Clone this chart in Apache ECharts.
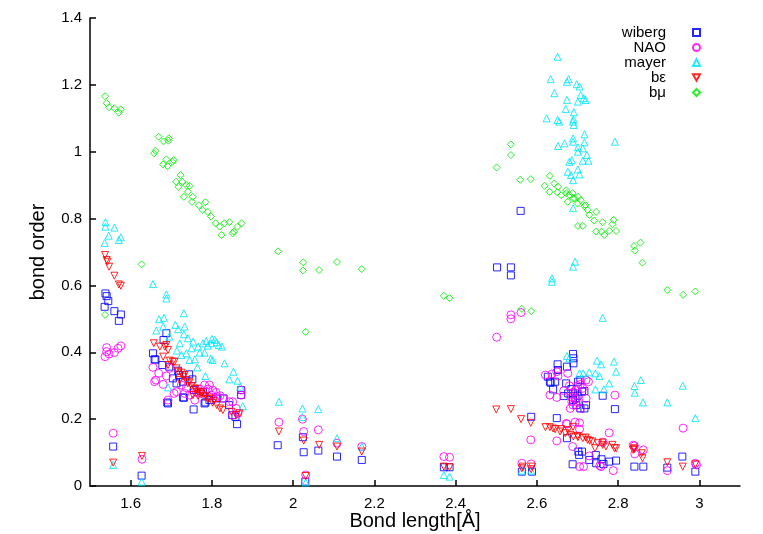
<!DOCTYPE html>
<html>
<head>
<meta charset="utf-8">
<script src="https://cdn.jsdelivr.net/npm/echarts@6/dist/echarts.min.js"></script>
<style>html,body{margin:0;padding:0;background:#fff}#c{width:763px;height:534px}</style>
</head>
<body>
<div id="c"></div>
<script>
const seriesNames = ['wiberg', 'NAO', 'mayer', 'bε', 'bμ'];
const xTicks = [1.6, 1.8, 2.0, 2.2, 2.4, 2.6, 2.8, 3.0];

const wibergData = [
[1.538,0.576],[1.541,0.568],[1.545,0.553],[1.536,0.536],[1.560,0.523],[1.576,0.513],[1.571,0.494],
[1.557,0.118],[1.627,0.031],
[1.688,0.457],[1.681,0.437],[1.655,0.397],[1.659,0.379],[1.661,0.378],[1.678,0.362],[1.695,0.357],[1.717,0.345],[1.719,0.332],[1.744,0.334],[1.752,0.319],[1.704,0.322],[1.713,0.307],[1.729,0.312],[1.756,0.287],[1.778,0.282],[1.729,0.265],[1.692,0.247],[1.690,0.250],[1.755,0.229],[1.782,0.247],[1.794,0.257],[1.811,0.262],[1.829,0.262],[1.842,0.242],[1.850,0.212],[1.858,0.207],[1.862,0.185],[1.872,0.287],[1.872,0.272],[1.731,0.264],[1.784,0.250],
[1.962,0.122],[2.024,0.146],[2.026,0.101],[2.062,0.106],[2.108,0.088],[2.169,0.078],[2.371,0.056],[2.385,0.056],[2.030,0.013],
[2.560,0.823],[2.502,0.654],[2.536,0.654],[2.536,0.630],
[2.689,0.395],[2.690,0.382],[2.690,0.367],[2.651,0.364],[2.652,0.347],[2.674,0.357],[2.627,0.327],[2.634,0.309],[2.645,0.312],[2.672,0.307],[2.701,0.312],[2.707,0.317],[2.640,0.289],[2.666,0.269],[2.677,0.277],[2.689,0.277],[2.711,0.282],[2.717,0.284],[2.689,0.257],[2.697,0.242],[2.707,0.232],[2.717,0.232],[2.721,0.242],[2.762,0.270],[2.792,0.230],[2.586,0.207],[2.649,0.203],[2.674,0.143],[2.702,0.103],[2.711,0.103],[2.704,0.093],[2.729,0.078],[2.745,0.093],[2.759,0.080],[2.764,0.066],[2.778,0.073],[2.795,0.076],[2.688,0.065],[2.746,0.068],[2.840,0.058],[2.862,0.058],[2.563,0.043],[2.588,0.043],[2.921,0.055],[2.958,0.088],[2.990,0.043],[2.632,0.312],[2.695,0.262],[2.700,0.270],[2.685,0.290]
];

const naoData = [
[1.537,0.387],[1.541,0.414],[1.541,0.402],[1.547,0.395],[1.560,0.399],[1.569,0.412],[1.576,0.419],[1.557,0.158],[1.628,0.080],
[1.655,0.355],[1.662,0.317],[1.659,0.312],[1.669,0.337],[1.680,0.304],[1.692,0.257],[1.688,0.329],[1.696,0.352],[1.707,0.277],[1.713,0.282],[1.725,0.302],[1.733,0.277],[1.737,0.294],[1.745,0.272],[1.758,0.257],[1.762,0.282],[1.774,0.277],[1.782,0.302],[1.794,0.302],[1.802,0.287],[1.798,0.272],[1.814,0.267],[1.827,0.262],[1.843,0.252],[1.851,0.252],[1.860,0.232],[1.872,0.272],[1.872,0.287],[1.864,0.217],[1.851,0.212],
[1.790,0.290],[1.810,0.280],[1.820,0.270],[1.770,0.290],
[1.965,0.191],[2.023,0.200],[2.026,0.163],[2.062,0.168],[2.031,0.033],[2.108,0.128],[2.169,0.118],[2.371,0.088],[2.385,0.086],
[2.501,0.445],[2.536,0.512],[2.536,0.500],[2.561,0.519],[2.585,0.138],[2.563,0.068],[2.586,0.066],
[2.621,0.332],[2.637,0.335],[2.649,0.342],[2.652,0.329],[2.676,0.337],[2.721,0.317],[2.727,0.312],[2.707,0.304],[2.713,0.292],[2.721,0.262],[2.666,0.285],[2.632,0.272],[2.649,0.265],[2.686,0.267],[2.686,0.252],[2.689,0.242],[2.707,0.232],[2.682,0.232],[2.697,0.287],[2.792,0.272],[2.674,0.185],[2.705,0.189],[2.705,0.170],[2.649,0.135],[2.688,0.118],[2.778,0.159],[2.762,0.131],[2.729,0.090],[2.758,0.058],[2.705,0.058],[2.715,0.058],[2.788,0.046],[2.840,0.120],[2.841,0.096],[2.862,0.108],[2.960,0.173],[2.921,0.046],[2.990,0.068],[2.755,0.061],[2.680,0.300],[2.690,0.280],[2.700,0.250],[2.695,0.260],[2.700,0.300],[2.672,0.187],[2.694,0.191],[2.837,0.122],[2.993,0.063]
];

const mayerData = [
[1.538,0.789],[1.538,0.776],[1.560,0.773],[1.546,0.749],[1.536,0.727],[1.571,0.736],[1.576,0.744],
[1.655,0.604],[1.688,0.573],[1.688,0.561],[1.731,0.517],[1.670,0.499],[1.682,0.503],[1.710,0.482],[1.733,0.477],[1.663,0.465],[1.680,0.477],[1.717,0.469],[1.695,0.447],[1.731,0.454],[1.741,0.442],[1.721,0.427],[1.754,0.432],[1.750,0.412],[1.766,0.417],[1.778,0.427],[1.786,0.434],[1.798,0.427],[1.807,0.437],[1.817,0.422],[1.825,0.417],[1.770,0.399],[1.782,0.399],[1.737,0.397],[1.725,0.392],[1.714,0.405],[1.758,0.379],[1.745,0.377],[1.797,0.381],[1.764,0.355],[1.831,0.367],[1.802,0.377],[1.784,0.329],[1.853,0.342],[1.843,0.319],[1.863,0.315],[1.870,0.297],[1.692,0.295],[1.876,0.239],
[1.790,0.420],[1.812,0.430],[1.800,0.440],
[1.965,0.252],[2.023,0.232],[2.062,0.230],[2.023,0.206],[2.108,0.143],[2.169,0.118],[2.371,0.033],[2.385,0.028],[1.557,0.063],[1.627,0.013],[2.031,0.011],
[2.651,1.284],[2.634,1.217],[2.678,1.217],[2.674,1.209],[2.698,1.202],[2.705,1.195],[2.643,1.175],[2.708,1.170],[2.715,1.160],[2.720,1.155],[2.701,1.150],[2.674,1.155],[2.671,1.128],[2.691,1.118],[2.624,1.100],[2.651,1.095],[2.655,1.090],[2.690,1.097],[2.691,1.080],[2.689,1.090],[2.717,1.052],[2.689,1.040],[2.689,1.030],[2.717,1.028],[2.792,1.030],[2.668,1.025],[2.652,1.017],[2.701,1.013],[2.713,1.010],[2.701,1.000],[2.723,0.990],[2.686,0.975],[2.713,0.973],[2.727,0.973],[2.680,0.970],[2.701,0.947],[2.676,0.940],[2.684,0.930],[2.705,0.932],[2.689,0.915],[2.689,0.831],[2.694,0.671],[2.689,0.656],[2.637,0.621],[2.637,0.611],[2.762,0.503],
[2.674,0.389],[2.680,0.382],[2.748,0.375],[2.758,0.364],[2.790,0.372],[2.705,0.337],[2.714,0.337],[2.729,0.340],[2.744,0.337],[2.754,0.329],[2.795,0.342],[2.778,0.307],[2.765,0.289],[2.744,0.289],[2.840,0.299],[2.856,0.317],[2.841,0.279],[2.861,0.250],[2.959,0.300],[2.921,0.250],[2.990,0.203],[2.563,0.046],[2.586,0.046]
];

const bEpsData = [
[1.537,0.691],[1.541,0.676],[1.543,0.671],[1.547,0.656],[1.560,0.629],[1.571,0.603],[1.576,0.599],[1.557,0.070],[1.628,0.090],
[1.657,0.427],[1.672,0.417],[1.688,0.422],[1.692,0.407],[1.680,0.387],[1.704,0.372],[1.696,0.375],[1.692,0.362],[1.717,0.342],[1.729,0.327],[1.721,0.317],[1.737,0.317],[1.741,0.307],[1.750,0.299],[1.758,0.292],[1.766,0.282],[1.774,0.275],[1.782,0.267],[1.794,0.262],[1.802,0.249],[1.812,0.242],[1.820,0.232],[1.827,0.227],[1.753,0.272],[1.766,0.270],[1.848,0.222],[1.868,0.217],[1.860,0.212],[1.713,0.352],[1.725,0.339],[1.733,0.332],[1.684,0.417],[1.708,0.372],
[1.745,0.310],[1.760,0.290],[1.775,0.280],[1.785,0.270],[1.790,0.260],[1.805,0.255],
[1.965,0.163],[2.026,0.136],[2.064,0.123],[2.031,0.030],[2.108,0.118],[2.169,0.103],[2.371,0.058],[2.385,0.056],[2.500,0.229],
[2.536,0.230],[2.561,0.200],[2.585,0.189],[2.563,0.053],[2.586,0.050],
[2.621,0.176],[2.632,0.176],[2.645,0.170],[2.657,0.163],[2.670,0.158],[2.682,0.153],[2.690,0.148],[2.701,0.146],[2.713,0.143],[2.725,0.138],[2.737,0.133],[2.750,0.128],[2.762,0.123],[2.770,0.118],[2.786,0.123],[2.791,0.113],[2.743,0.113],[2.689,0.177],[2.677,0.167],[2.660,0.170],[2.640,0.172],[2.839,0.113],[2.858,0.098],[2.860,0.083],[2.565,0.058],[2.588,0.058],[2.762,0.130],[2.795,0.113],[2.840,0.110],[2.921,0.071],[2.959,0.058],[2.990,0.065],[2.837,0.108],[2.700,0.150],[2.720,0.145],[2.730,0.135]
];

const bMuData = [
[1.537,1.166],[1.541,1.145],[1.547,1.133],[1.560,1.130],[1.571,1.117],[1.576,1.127],
[1.669,1.045],[1.681,1.031],[1.694,1.040],[1.693,1.033],[1.661,1.003],[1.658,0.995],[1.688,0.977],[1.706,0.975],[1.680,0.962],[1.691,0.957],[1.703,0.970],[1.723,0.930],[1.712,0.910],[1.727,0.910],[1.718,0.895],[1.737,0.900],[1.745,0.898],[1.731,0.865],[1.741,0.880],[1.753,0.865],[1.751,0.850],[1.768,0.840],[1.784,0.849],[1.777,0.826],[1.790,0.820],[1.798,0.806],[1.809,0.786],[1.819,0.776],[1.824,0.751],[1.831,0.786],[1.843,0.789],[1.854,0.761],[1.863,0.776],[1.873,0.786],[1.851,0.756],
[1.627,0.663],[1.537,0.512],[1.963,0.702],[2.025,0.669],[2.024,0.645],[2.064,0.646],[2.108,0.670],[2.169,0.649],[2.031,0.461],[2.371,0.569],[2.385,0.562],
[2.536,1.022],[2.536,0.990],[2.501,0.953],[2.559,0.916],[2.585,0.918],[2.632,0.928],[2.619,0.898],[2.643,0.905],[2.652,0.895],[2.631,0.880],[2.650,0.879],[2.672,0.885],[2.672,0.876],[2.688,0.876],[2.701,0.865],[2.676,0.850],[2.693,0.860],[2.708,0.855],[2.717,0.837],[2.725,0.826],[2.746,0.820],[2.729,0.811],[2.741,0.794],[2.762,0.789],[2.789,0.796],[2.786,0.783],[2.701,0.778],[2.713,0.778],[2.746,0.761],[2.759,0.761],[2.766,0.751],[2.778,0.763],[2.795,0.763],[2.839,0.718],[2.855,0.728],[2.841,0.704],[2.860,0.668],
[2.921,0.586],[2.960,0.572],[2.990,0.582],[2.563,0.530],[2.586,0.523],
[2.660,0.870],[2.680,0.870],[2.690,0.860],[2.700,0.845],[2.720,0.840]
];

const colors = ['#0000ff', '#ff00ff', '#00e5ff', '#ff0000', '#00ee00'];
const symbols = ['rect', 'circle', 'triangle', 'triangle', 'diamond'];
const legendIcons = ['rect', 'circle', 'triangle', 'path://M0,0 L10,0 L5,9 Z', 'diamond'];
const rotations = [0, 0, 0, 180, 0];
const sizes = [7, 8, 7, 7, 7];
const allData = [wibergData, naoData, mayerData, bEpsData, bMuData];

const FONT = 'Liberation Sans, Arial, sans-serif';
const chart = echarts.init(document.getElementById('c'), null, {renderer: 'canvas'});
chart.setOption({
  animation: false,
  backgroundColor: '#fff',
  grid: {left: 90, right: 23, top: 18, bottom: 48, containLabel: false, outerBoundsMode: 'none'},
  legend: {
    orient: 'vertical',
    right: 57,
    top: 20,
    align: 'right',
    itemWidth: 7,
    itemHeight: 7,
    itemGap: 0,
    textStyle: {fontFamily: FONT, fontSize: 15, color: '#000', lineHeight: 15, padding: [0, 22, 0, 0]},
    data: seriesNames.map((n, i) => ({name: n, icon: legendIcons[i]}))
  },
  xAxis: {
    type: 'value', min: 1.5, max: 3.1,
    name: 'Bond length[Å]', nameLocation: 'middle', nameGap: 25, nameMoveOverlap: false,
    nameTextStyle: {fontFamily: FONT, fontSize: 20, color: '#000'},
    splitLine: {show: false},
    axisLine: {show: true, onZero: false, lineStyle: {color: '#000', width: 1.5}},
    axisTick: {show: true, inside: true, length: 6, customValues: xTicks, lineStyle: {color: '#000', width: 1.5}},
    axisLabel: {customValues: xTicks, fontFamily: FONT, fontSize: 15, color: '#000', margin: 10,
      formatter: v => String(Math.round(v * 10) / 10)}
  },
  yAxis: {
    type: 'value', min: 0, max: 1.4, interval: 0.2,
    name: 'bond order', nameLocation: 'middle', nameGap: 42, nameRotate: 90, nameMoveOverlap: false,
    nameTextStyle: {fontFamily: FONT, fontSize: 20, color: '#000'},
    splitLine: {show: false},
    axisLine: {show: true, lineStyle: {color: '#000', width: 1.5}},
    axisTick: {show: true, inside: true, length: 6, lineStyle: {color: '#000', width: 1.5}},
    axisLabel: {fontFamily: FONT, fontSize: 15, color: '#000', margin: 8,
      formatter: v => String(Math.round(v * 10) / 10)}
  },
  series: seriesNames.map((n, i) => ({
    name: n,
    type: 'scatter',
    data: allData[i],
    symbol: symbols[i],
    symbolRotate: rotations[i],
    symbolSize: sizes[i],
    itemStyle: {color: 'rgba(255,255,255,0)', borderColor: colors[i], borderWidth: 1, opacity: 0.85},
    emphasis: {disabled: true}
  }))
});
</script>
</body>
</html>
